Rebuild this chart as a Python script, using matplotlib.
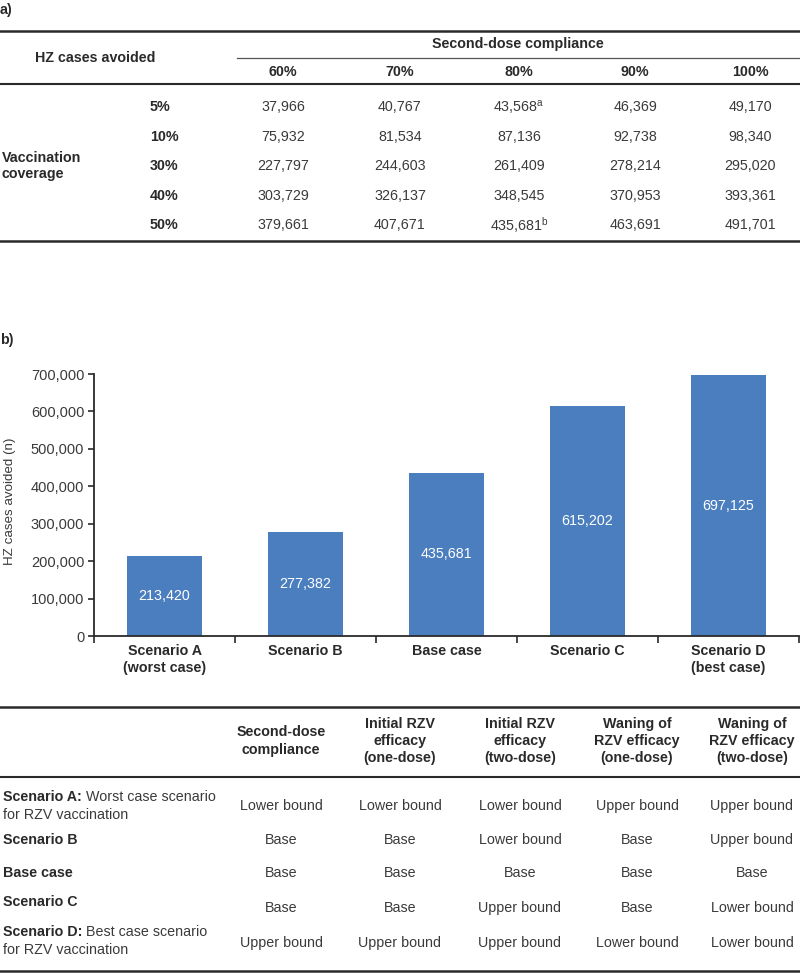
import numpy as np
import matplotlib
matplotlib.use("Agg")
from matplotlib import pyplot as plt

plt.rcParams['font.family'] = ['Liberation Sans', 'DejaVu Sans']
plt.rcParams['mathtext.fontset'] = 'custom'
plt.rcParams['mathtext.rm'] = 'Liberation Sans'

# ---- data ----
coverage = ['5%', '10%', '30%', '40%', '50%']
compliance = ['60%', '70%', '80%', '90%', '100%']
cases_5 = ['37,966', '40,767', '43,568$^{\\mathrm{a}}$', '46,369', '49,170']
cases_10 = ['75,932', '81,534', '87,136', '92,738', '98,340']
cases_30 = ['227,797', '244,603', '261,409', '278,214', '295,020']
cases_40 = ['303,729', '326,137', '348,545', '370,953', '393,361']
cases_50 = ['379,661', '407,671', '435,681$^{\\mathrm{b}}$', '463,691', '491,701']
cases_table = [cases_5, cases_10, cases_30, cases_40, cases_50]

scenarios = ['Scenario A\n(worst case)', 'Scenario B', 'Base case', 'Scenario C', 'Scenario D\n(best case)']
avoided = [213420, 277382, 435681, 615202, 697125]

param_headers = ['Second-dose\ncompliance', 'Initial RZV\nefficacy\n(one-dose)', 'Initial RZV\nefficacy\n(two-dose)',
                 'Waning of\nRZV efficacy\n(one-dose)', 'Waning of\nRZV efficacy\n(two-dose)']
row_bold = ['Scenario A:', 'Scenario B', 'Base case', 'Scenario C', 'Scenario D:']
row_rest = [' Worst case scenario', '', '', '', ' Best case scenario']
row_second = ['for RZV vaccination', '', '', '', 'for RZV vaccination']
settings_A = ['Lower bound', 'Lower bound', 'Lower bound', 'Upper bound', 'Upper bound']
settings_B = ['Base', 'Base', 'Lower bound', 'Base', 'Upper bound']
settings_base = ['Base', 'Base', 'Base', 'Base', 'Base']
settings_C = ['Base', 'Base', 'Upper bound', 'Base', 'Lower bound']
settings_D = ['Upper bound', 'Upper bound', 'Upper bound', 'Lower bound', 'Lower bound']
settings = [settings_A, settings_B, settings_base, settings_C, settings_D]

txt = '#3a3a3a'
dark = '#2a2a2a'
blue = '#4a7ebf'
fs = 10.3

W, H = 800, 973
fig = plt.figure(figsize=(8, 9.73), dpi=100)

# overlay axes in pixel coords for the tables
ov = fig.add_axes([0, 0, 1, 1])
ov.set_xlim(0, W)
ov.set_ylim(H, 0)
ov.axis('off')

# ---- a) table ----
ov.text(0, 10, 'a)', fontsize=fs, fontweight='bold', color=dark, va='center', ha='left')
ov.plot([0, W], [31, 31], color=dark, lw=1.8)
ov.text(95, 58, 'HZ cases avoided', fontsize=fs, fontweight='bold', color=dark, ha='center', va='center')
ov.text(518, 44, 'Second-dose compliance', fontsize=fs, fontweight='bold', color=dark, ha='center', va='center')
ov.plot([237, W], [58, 58], color='#555555', lw=0.9)
col_x = [283, 400, 519, 635, 750]
for cx, c in zip(col_x, compliance):
    ov.text(cx, 72, c, fontsize=fs, fontweight='bold', color=dark, ha='center', va='center')
ov.plot([0, W], [84, 84], color=dark, lw=1.5)
row_y = [107, 137, 166, 196, 225]
for ry, cov, vals in zip(row_y, coverage, cases_table):
    ov.text(150, ry, cov, fontsize=fs, fontweight='bold', color=dark, ha='left', va='center')
    for cx, v in zip(col_x, vals):
        ov.text(cx, ry, v, fontsize=fs, color=txt, ha='center', va='center')
ov.text(2, 166, 'Vaccination\ncoverage', fontsize=fs, fontweight='bold', color=dark, ha='left', va='center',
        linespacing=1.25)
ov.plot([0, W], [241, 241], color=dark, lw=1.8)

# ---- b) bar chart ----
ov.text(0, 340, 'b)', fontsize=fs, fontweight='bold', color=dark, va='center', ha='left')
ov.text(10, 501, 'HZ cases avoided (n)', fontsize=9.6, color=txt, rotation=90, ha='center', va='center')

x0, x1, y_top, y_bot = 94, 799, 374, 636
ax = fig.add_axes([x0 / W, 1 - y_bot / H, (x1 - x0) / W, (y_bot - y_top) / H])
pos = np.arange(len(scenarios))
ax.bar(pos, avoided, width=0.53, color=blue)
for p, v in zip(pos, avoided):
    ax.text(p, v / 2, f'{v:,}', color='white', fontsize=fs, ha='center', va='center')
ax.set_xlim(-0.5, len(scenarios) - 0.5)
ax.set_ylim(0, 700000)
ax.set_yticks(np.arange(0, 700001, 100000))
ax.set_yticklabels([f'{int(t):,}' for t in np.arange(0, 700001, 100000)])
ax.set_xticks(np.arange(-0.5, len(scenarios), 1.0))
ax.set_xticklabels([])
ax.set_xticks(pos, minor=True)
ax.set_xticklabels(scenarios, minor=True, fontweight='bold', color=dark, fontsize=fs)
ax.tick_params(axis='x', which='minor', length=0, pad=6)
ax.tick_params(axis='x', which='major', length=5, direction='out', color=dark, width=1.2)
ax.tick_params(axis='y', length=4, direction='out', color=dark, width=1.2, labelcolor=txt, labelsize=10.5, pad=3)
for s in ['top', 'right']:
    ax.spines[s].set_visible(False)
for s in ['left', 'bottom']:
    ax.spines[s].set_color(dark)
    ax.spines[s].set_linewidth(1.3)

# ---- scenario table ----
ov.plot([0, W], [707, 707], color=dark, lw=1.8)
pcol_x = [281, 400, 520, 637, 752]
for cx, h in zip(pcol_x, param_headers):
    ov.text(cx, 741, h, fontsize=fs, fontweight='bold', color=dark, ha='center', va='center', linespacing=1.3)
ov.plot([0, W], [777, 777], color=dark, lw=1.5)

label_y = [(797, 815), (840, None), (873, None), (902, None), (932, 950)]
val_y = [806, 840, 873, 908, 943]
for (ly1, ly2), vy, b, r, s2, vals in zip(label_y, val_y, row_bold, row_rest, row_second, settings):
    t = ov.text(3, ly1, b, fontsize=fs, fontweight='bold', color=dark, ha='left', va='center')
    if r:
        ov.annotate(r, xy=(1, 0.5), xycoords=t, fontsize=fs, color=txt, ha='left', va='center')
    if ly2 is not None:
        ov.text(3, ly2, s2, fontsize=fs, color=txt, ha='left', va='center')
    for cx, v in zip(pcol_x, vals):
        ov.text(cx, vy, v, fontsize=fs, color=txt, ha='center', va='center')
ov.plot([0, W], [971, 971], color=dark, lw=1.8)

fig.savefig('out.png', dpi=100)
